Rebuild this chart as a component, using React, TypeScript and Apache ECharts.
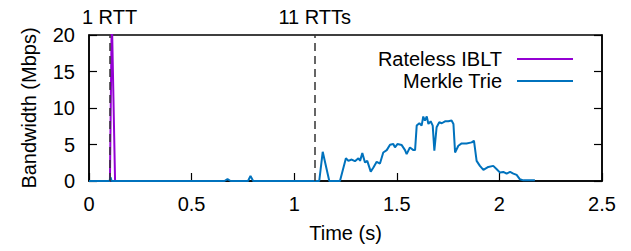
import React, { useEffect, useRef } from "react";
import * as echarts from "echarts";

const xTicks = [0, 0.5, 1, 1.5, 2, 2.5];
const yTicks = [0, 5, 10, 15, 20];
const seriesNames = ["Rateless IBLT", "Merkle Trie"];
const rttMarks = [
  { t: 0.1, label: "1 RTT" },
  { t: 1.1, label: "11 RTTs" },
];

const ratelessIBLT: number[][] = [
  [0, 0], [0.05, 0], [0.102, 0], [0.111, 23], [0.127, 0], [0.14, 0],
];

const merkleTrie: number[][] = [
  [0, 0], [0.1, 0], [0.105, 0.5], [0.11, 0], [0.66, 0], [0.675, 0.25], [0.69, 0],
  [0.775, 0], [0.787, 0.7], [0.8, 0], [1.122, 0], [1.139, 4.0], [1.171, 0],
  [1.223, 0], [1.252, 3.13], [1.264, 2.76], [1.28, 2.94], [1.296, 2.71],
  [1.313, 3.13], [1.321, 2.76], [1.332, 3.82], [1.345, 2.53], [1.356, 2.76],
  [1.373, 1.29], [1.386, 1.84], [1.402, 2.62], [1.418, 2.39], [1.434, 3.91],
  [1.451, 4.23], [1.467, 4.97], [1.483, 5.06], [1.491, 4.6], [1.503, 5.06],
  [1.524, 4.92], [1.54, 4.23], [1.548, 3.68], [1.564, 4.6], [1.581, 4.23],
  [1.589, 4.23], [1.597, 7.59], [1.61, 7.91], [1.621, 7.59], [1.629, 8.83],
  [1.637, 8.28], [1.646, 8.83], [1.654, 7.82], [1.665, 8.18], [1.675, 7.59],
  [1.683, 4.14], [1.694, 7.36], [1.707, 8.05], [1.719, 7.91], [1.735, 8.18],
  [1.751, 8.18], [1.767, 8.28], [1.776, 7.82], [1.784, 3.91], [1.8, 4.83],
  [1.816, 5.15], [1.84, 5.15], [1.865, 5.29], [1.876, 5.52], [1.889, 2.76],
  [1.905, 2.07], [1.922, 1.52], [1.946, 1.93], [1.97, 2.07], [1.987, 1.61],
  [2.003, 1.15], [2.019, 1.24], [2.035, 1.01], [2.052, 1.24], [2.068, 1.01],
  [2.084, 0.83], [2.1, 0.23], [2.117, 0.09], [2.14, 0.1], [2.173, 0.1],
];

const colors = ["#9400d3", "#0072bd"];
const FONT = "'Liberation Sans', Arial, Helvetica, sans-serif";
const FS = 20;

export default function App() {
  const ref = useRef<HTMLDivElement>(null);
  useEffect(() => {
    if (!ref.current) return;
    const chart = echarts.init(ref.current, undefined, { renderer: "svg" });
    const axisLine = { show: true, lineStyle: { color: "#000", width: 1.5 } };
    const axisTick = { show: true, inside: true, length: 8, lineStyle: { color: "#000", width: 1.2 } };
    chart.setOption({
      animation: false,
      textStyle: { fontFamily: FONT },
      grid: {
        left: 89, right: 29, top: 35, bottom: 70,
        show: true, borderColor: "#000", borderWidth: 1.5,
      },
      legend: {
        orient: "vertical",
        right: 53,
        top: 44,
        align: "right",
        itemWidth: 56,
        itemHeight: 2,
        itemGap: 2,
        icon: "rect",
        textStyle: { fontSize: FS, color: "#000", fontFamily: FONT, lineHeight: 20, padding: [0, 10, 0, 0] },
        data: seriesNames.map((n, i) => ({ name: n, itemStyle: { color: colors[i] } })),
      },
      xAxis: {
        type: "value",
        min: xTicks[0],
        max: xTicks[xTicks.length - 1],
        interval: 0.5,
        name: "Time (s)",
        nameLocation: "middle",
        nameGap: 42,
        nameTextStyle: { fontSize: FS, color: "#000", fontFamily: FONT },
        axisLine,
        axisTick,
        axisLabel: { fontSize: FS, color: "#000", margin: 13, fontFamily: FONT },
        splitLine: { show: false },
      },
      yAxis: [
        {
          type: "value",
          min: yTicks[0],
          max: yTicks[yTicks.length - 1],
          interval: 5,
          name: "Bandwidth (Mbps)",
          nameLocation: "middle",
          nameGap: 50,
          nameTextStyle: { fontSize: FS, color: "#000", fontFamily: FONT },
          axisLine,
          axisTick,
          axisLabel: { fontSize: FS, color: "#000", margin: 14, fontFamily: FONT },
          splitLine: { show: false },
        },
        {
          type: "value",
          position: "right",
          min: yTicks[0],
          max: yTicks[yTicks.length - 1],
          interval: 5,
          axisLine,
          axisTick,
          axisLabel: { show: false },
          splitLine: { show: false },
        },
      ],
      series: [
        {
          name: "rtt",
          type: "line",
          data: [[0, 0]],
          showSymbol: false,
          lineStyle: { opacity: 0 },
          silent: true,
          markLine: {
            silent: true,
            symbol: ["none", "none"],
            lineStyle: { color: "#333", width: 1.5, type: [8, 5] },
            label: {
              show: true,
              position: "end",
              distance: 8,
              fontSize: FS,
              color: "#000",
              fontFamily: FONT,
            },
            data: rttMarks.map((m) => ({ xAxis: m.t, label: { formatter: m.label } })),
          },
        },
        {
          name: seriesNames[0],
          type: "line",
          data: ratelessIBLT,
          showSymbol: false,
          clip: true,
          color: colors[0],
          lineStyle: { color: colors[0], width: 2 },
        },
        {
          name: seriesNames[1],
          type: "line",
          data: merkleTrie,
          showSymbol: false,
          clip: true,
          color: colors[1],
          lineStyle: { color: colors[1], width: 2 },
        },
      ],
    });
    return () => chart.dispose();
  }, []);
  return (
    <div
      ref={ref}
      style={{ position: "absolute", left: 0, top: 0, width: 631, height: 251, background: "#fff" }}
    />
  );
}
